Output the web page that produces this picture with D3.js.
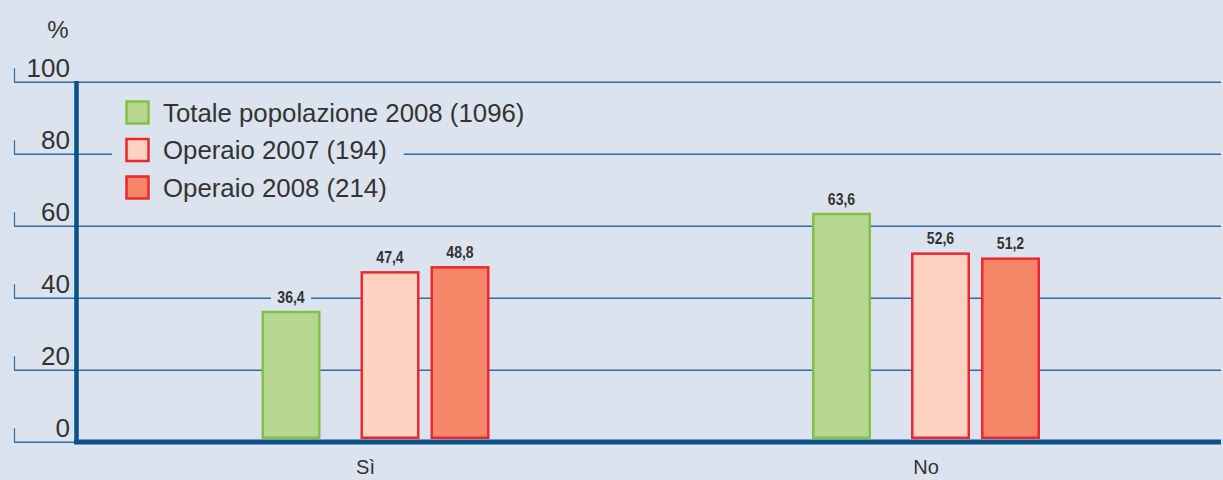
<!DOCTYPE html>
<html>
<head>
<meta charset="utf-8">
<script src="https://cdn.jsdelivr.net/npm/d3@7"></script>
<style>
  html, body { margin: 0; padding: 0; background: #dbe3ef; }
  svg { display: block; }
</style>
</head>
<body>
<svg id="chart" width="1223" height="480"></svg>
<script>
// ---- data ----
const categories = ["Sì", "No"];
const seriesNames = ["Totale popolazione 2008 (1096)", "Operaio 2007 (194)", "Operaio 2008 (214)"];
const totale2008 = [36.4, 63.6];
const operaio2007 = [47.4, 52.6];
const operaio2008 = [48.8, 51.2];
const yTicks = [0, 20, 40, 60, 80, 100];

const seriesValues = [totale2008, operaio2007, operaio2008];

// ---- styles / layout ----
const W = 1223, H = 480;
const bg = "#dbe3ef";
const gridColor = "#2f6ca2";
const axisColor = "#0a518a";
const fills = ["#b5d78f", "#fdd2c0", "#f58668"];
const strokes = ["#84c044", "#ee262e", "#ee262e"];
const barOffsets = [-114, -15, 55]; // left edge relative to group centre
const barW = 59;

const svg = d3.select("#chart");
svg.append("rect").attr("width", W).attr("height", H).attr("fill", bg);

const y = d3.scaleLinear().domain([0, 100]).range([442, 81.5]);
const x = d3.scalePoint().domain(categories).range([375.5, 926]);
const off = d3.scaleOrdinal().domain(seriesNames).range(barOffsets);

// grid lines + small tick marks
const grid = svg.append("g");
yTicks.forEach(t => {
  const yy = Math.round(y(t)) + 0.25;
  grid.append("line").attr("x1", 14).attr("x2", t === 0 ? 76 : 1221)
    .attr("y1", yy).attr("y2", yy)
    .attr("stroke", gridColor).attr("stroke-width", 1.5);
  grid.append("line").attr("x1", 14.5).attr("x2", 14.5)
    .attr("y1", yy - 14).attr("y2", yy)
    .attr("stroke", gridColor).attr("stroke-width", 1.2);
  grid.append("text").attr("x", 70).attr("y", yy - 5)
    .attr("text-anchor", "end")
    .attr("font-family", "'Liberation Sans', Arial, sans-serif")
    .attr("font-size", 26).attr("fill", "#333")
    .text(t);
});

svg.append("text").attr("x", 58).attr("y", 38).attr("text-anchor", "middle")
  .attr("font-family", "'Liberation Sans', Arial, sans-serif")
  .attr("font-size", 24).attr("fill", "#333").text("%");

// bars
const barsG = svg.append("g");
seriesNames.forEach((s, si) => {
  categories.forEach((c, ci) => {
    const v = seriesValues[si][ci];
    const x0 = x(c) + off(s);
    const top = y(v);
    barsG.append("rect")
      .attr("x", x0 + 1.25).attr("y", top + 1.25)
      .attr("width", barW - 2.5).attr("height", 439 - top - 2.5)
      .attr("fill", fills[si]).attr("stroke", strokes[si]).attr("stroke-width", 2.5);
    const cx = x0 + barW / 2, ty = top - 8;
    const lg = barsG.append("g");
    lg.append("rect").attr("x", cx - 20).attr("y", ty - 13)
      .attr("width", 40).attr("height", 16).attr("fill", bg);
    lg.append("text")
      .attr("transform", `translate(${cx},${ty}) scale(0.88,1)`)
      .attr("text-anchor", "middle")
      .attr("font-family", "'Liberation Sans', Arial, sans-serif")
      .attr("font-weight", "bold").attr("font-size", 16).attr("fill", "#333")
      .text(d3.format(".1f")(v).replace(".", ","));
  });
});

// baseline and y axis
svg.append("line").attr("x1", 74).attr("x2", 1221).attr("y1", 442).attr("y2", 442)
  .attr("stroke", axisColor).attr("stroke-width", 5);
svg.append("line").attr("x1", 76.5).attr("x2", 76.5).attr("y1", 81).attr("y2", 444)
  .attr("stroke", axisColor).attr("stroke-width", 4.5);

// category labels
categories.forEach(c => {
  svg.append("text").attr("x", x(c) - (c === "Sì" ? 10 : 0)).attr("y", 474)
    .attr("text-anchor", "middle")
    .attr("font-family", "'Liberation Sans', Arial, sans-serif")
    .attr("font-size", 20).attr("fill", "#333").text(c);
});

// legend
const leg = svg.append("g");
seriesNames.forEach((s, i) => {
  const cy = 112.5 + i * 37.5;
  const g = leg.append("g");
  const t = g.append("text").attr("x", 163).attr("y", cy + 9)
    .attr("font-family", "'Liberation Sans', Arial, sans-serif")
    .attr("font-size", 25.8).attr("fill", "#333").text(s);
  const bb = t.node().getBBox();
  g.insert("rect", "text").attr("x", 112).attr("y", cy - 17)
    .attr("width", bb.x + bb.width + 17 - 112).attr("height", 34).attr("fill", bg);
  g.append("rect").attr("x", 126.5).attr("y", cy - 11)
    .attr("width", 22).attr("height", 22)
    .attr("fill", fills[i]).attr("stroke", strokes[i]).attr("stroke-width", 2.5);
});
</script>
</body>
</html>
